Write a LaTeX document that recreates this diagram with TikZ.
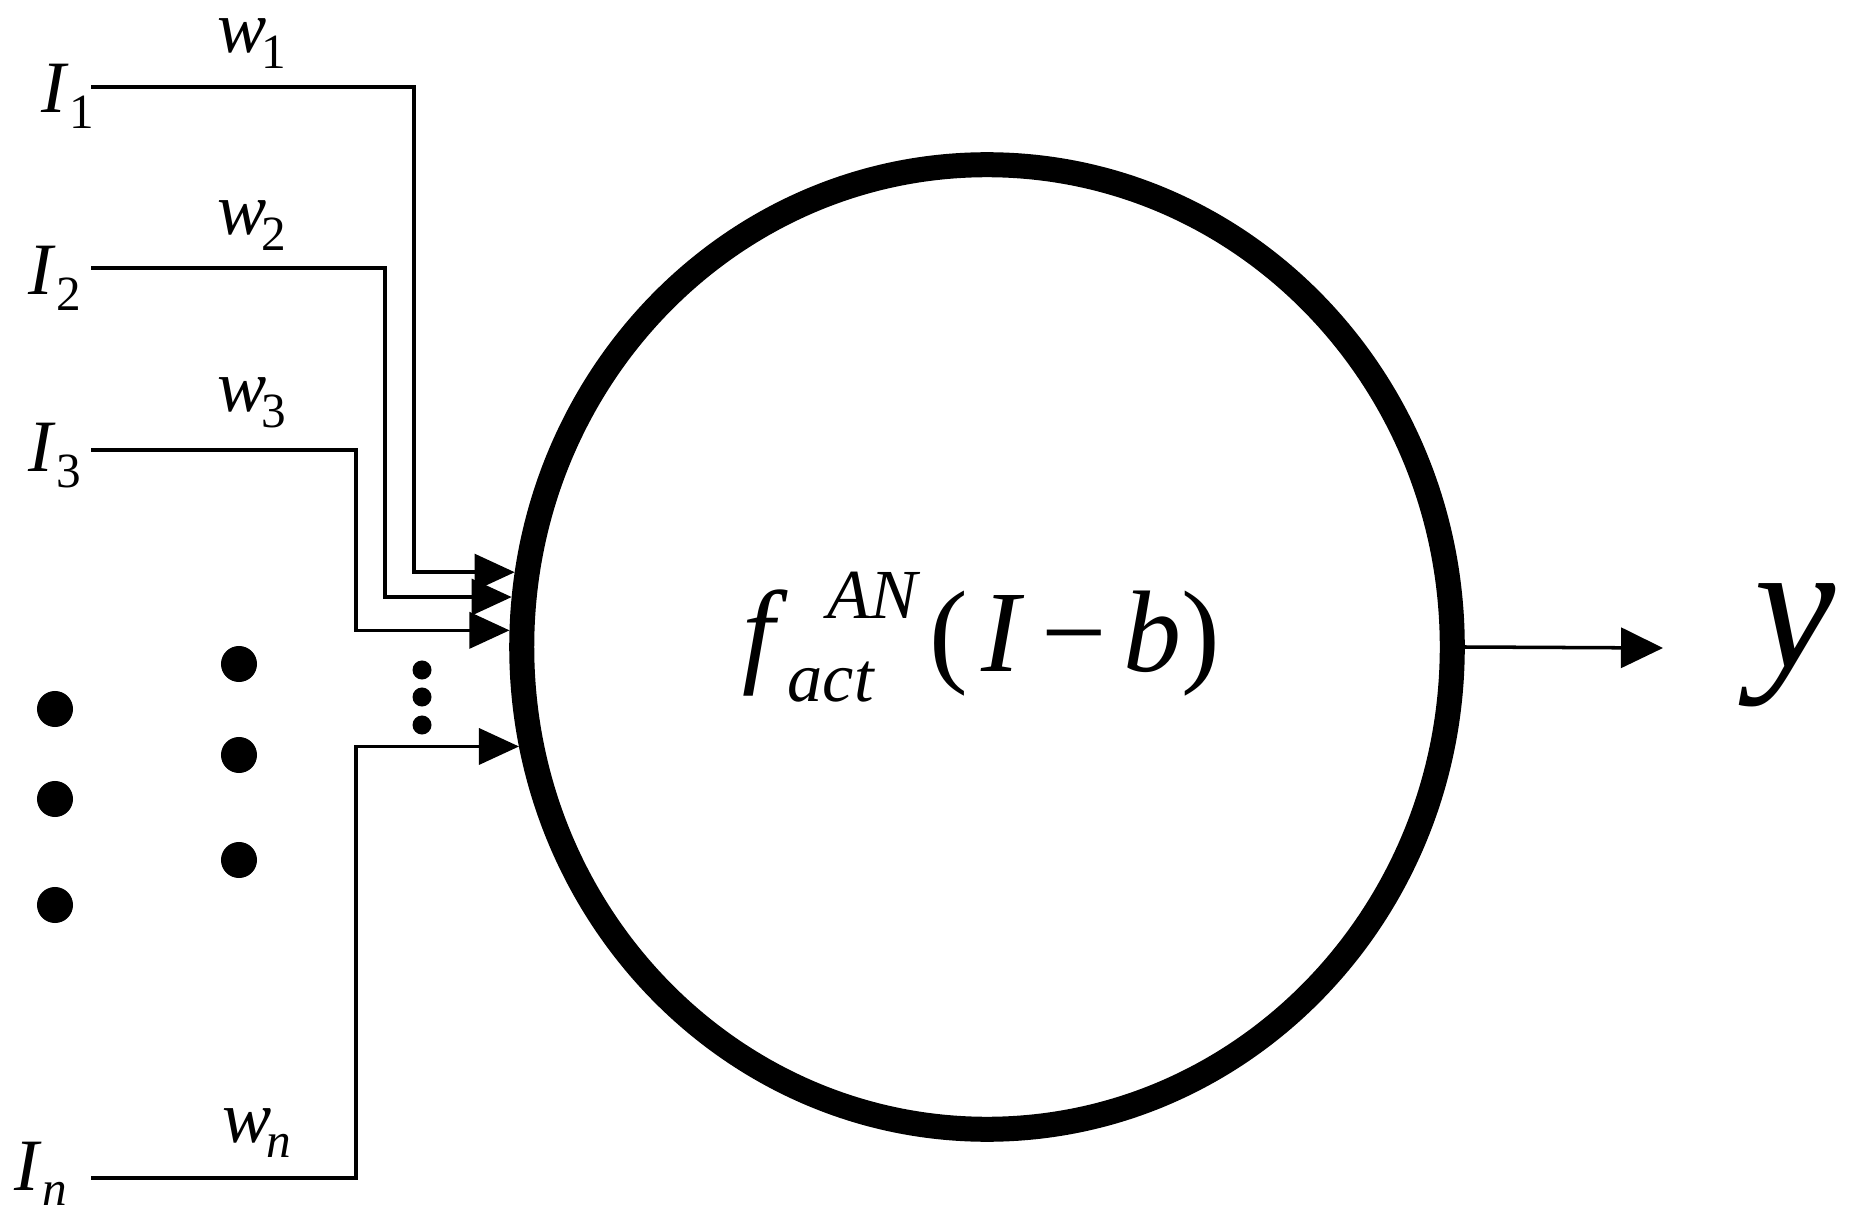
\documentclass[tikz,border=0pt]{standalone}
\usepackage{fontspec}
\setmainfont{Liberation Serif}
\usetikzlibrary{arrows.meta,shapes.geometric}
\newcommand{\ilab}[2]{{\itshape #1}\kern0.04em\raisebox{-0.21em}{\fontsize{14}{16}\selectfont #2}}
\newcommand{\wlab}[2]{{\itshape #1}\kern-0.07em\raisebox{-0.21em}{\fontsize{14}{16}\selectfont #2}}
\newcommand{\fact}{{\itshape f}\rlap{\kern0.45em\raisebox{0.45em}{\fontsize{20}{24}\selectfont\itshape AN}}\kern0.11em\raisebox{-0.26em}{\fontsize{20}{24}\selectfont\itshape act}\kern0.48em(\kern0.12em{\itshape I}\kern0.18em−\kern0.14em{\itshape b}\kern0.0em)}
\begin{document}
\begin{tikzpicture}[x=0.01cm,y=-0.01cm,
  lab/.style={anchor=base west, inner sep=0, font=\fontsize{21}{25}\selectfont},
  wire/.style={line width=1pt},
  arr/.style={wire, -{Triangle[length=0.4cm,width=0.36cm]}},
  outarr/.style={wire, -{Triangle[length=0.42cm,width=0.4cm]}},
  bigdot/.style={fill, circle, inner sep=0, minimum size=0.36cm},
  smalldot/.style={fill, circle, inner sep=0, minimum size=0.19cm}]
\useasboundingbox (0,0) rectangle (1849,1225);
\fill[white] (0,0) rectangle (1849,1225);
% neuron
\node[draw, ellipse, line width=0.25cm, minimum width=9.30cm, minimum height=9.64cm, inner sep=0] (neuron) at (987,647) {};
\node[anchor=base west, inner sep=0, font=\fontsize{33}{40}\selectfont] (formula) at (742,671) {\fact};
% input labels
\node[lab] (I1) at (41,113) {\ilab{I}{1}};
\node[lab] (I2) at (28,295) {\ilab{I}{2}};
\node[lab] (I3) at (28,472) {\ilab{I}{3}};
\node[lab] (In) at (14,1190) {\ilab{I}{\itshape n}};
\node[lab] (w1) at (217,53) {\wlab{w}{1}};
\node[lab] (w2) at (217,235) {\wlab{w}{2}};
\node[lab] (w3) at (217,412) {\wlab{w}{3}};
\node[lab] (wn) at (222,1142) {\wlab{w}{\itshape n}};
% wire points
\coordinate (s1) at (91,87);
\coordinate (s2) at (91,268);
\coordinate (s3) at (91,450);
\coordinate (sn) at (91,1178);
\coordinate (k1) at (414,87);
\coordinate (k2) at (385,268);
\coordinate (k3) at (356,450);
\coordinate (kn) at (356,1178);
\draw[arr] (s1) -- (k1) |- (neuron.171);
\draw[arr] (s2) -- (k2) |- (neuron.174.6);
\draw[arr] (s3) -- (k3) |- (neuron.178.2);
\draw[arr] (sn) -- (kn) |- (neuron.192.7);
% output
\coordinate (oend) at (1663,648);
\draw[outarr] (neuron.east) -- (oend);
\node[anchor=base west, inner sep=0, font=\fontsize{52}{58}\selectfont\itshape] (yout) at (1754,667) {y};
% dots
\node[bigdot] (a1) at (55,709) {};
\node[bigdot] (a2) at (55,799) {};
\node[bigdot] (a3) at (55,905) {};
\node[bigdot] (b1) at (239,664) {};
\node[bigdot] (b2) at (239,755) {};
\node[bigdot] (b3) at (239,860) {};
\node[smalldot] (c1) at (422,670) {};
\node[smalldot] (c2) at (422,697) {};
\node[smalldot] (c3) at (422,725) {};
\end{tikzpicture}
\end{document}
